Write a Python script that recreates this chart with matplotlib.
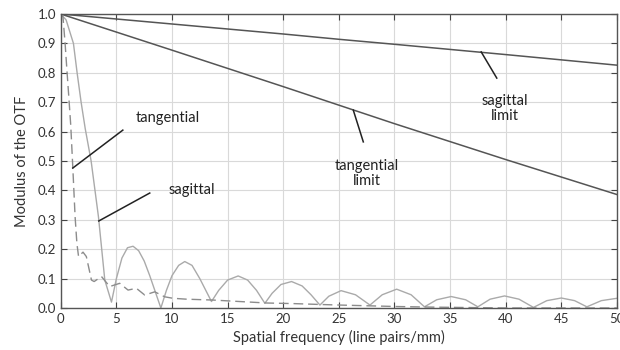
import matplotlib.pyplot as plt
import numpy as np

plt.rcParams['font.family'] = ['Lato', 'DejaVu Sans']

# diffraction limits (nearly straight lines)
lim_x = [0, 10, 20, 25, 30, 40, 50]
sag_limit = [1.0, 0.966, 0.932, 0.914, 0.897, 0.862, 0.826]
tan_limit = [1.0, 0.877, 0.753, 0.69, 0.627, 0.505, 0.386]

# tangential MTF (solid grey)
tan_x = [0, 0.48, 1.14, 1.47, 1.83, 2.2, 2.73, 3.39, 3.96, 4.56, 5.0, 5.5, 6.0, 6.5,
         7.0, 7.5, 8.0, 8.5, 9.0, 9.5, 10.0, 10.6, 11.15, 11.8, 12.5, 13.55,
         14.2, 15.0, 15.95, 16.8, 17.6, 18.35, 19.0, 19.8, 20.75, 21.7, 22.5, 23.3,
         24.1, 25.2, 26.5, 27.8, 28.9, 30.2, 31.5, 32.7, 33.8, 35.1, 36.4, 37.5,
         38.6, 39.9, 41.2, 42.5, 43.7, 45.0, 46.2, 47.3, 48.6, 50.0]
tan_y = [1.0, 0.98, 0.90, 0.80, 0.70, 0.61, 0.50, 0.31, 0.095, 0.02, 0.10, 0.17, 0.205, 0.21,
         0.195, 0.16, 0.11, 0.055, 0.0, 0.06, 0.11, 0.145, 0.158, 0.145, 0.10, 0.022,
         0.06, 0.095, 0.109, 0.095, 0.06, 0.016, 0.05, 0.08, 0.09, 0.075, 0.045, 0.01,
         0.04, 0.059, 0.045, 0.01, 0.045, 0.064, 0.045, 0.004, 0.028, 0.039, 0.028, 0.004,
         0.03, 0.041, 0.03, 0.002, 0.025, 0.034, 0.025, 0.004, 0.025, 0.033]

# sagittal MTF (dashed grey)
sag_x = [0, 0.2, 0.39, 0.57, 0.72, 0.9, 1.08, 1.29, 1.45, 1.6, 2.0, 2.3, 2.76, 3.0, 3.66, 4.4,
         5.3, 6.05, 6.8, 7.55, 8.45, 9.35, 10.1, 11.3, 13.7, 16.1, 18.5, 20.9,
         23.3, 25.1, 30.2, 33.4, 40.0, 50.0]
sag_y = [1.0, 0.99, 0.90, 0.80, 0.72, 0.62, 0.48, 0.31, 0.22, 0.175, 0.19, 0.175, 0.095, 0.09,
         0.107, 0.073, 0.084, 0.061, 0.067, 0.044, 0.055, 0.038, 0.033, 0.03, 0.027, 0.022,
         0.017, 0.015, 0.012, 0.01, 0.005, 0.003, 0.0, 0.0]

fig = plt.figure(figsize=(6.2, 3.5), dpi=100)
ax = fig.add_axes([0.098, 0.12, 0.897, 0.84])

ax.plot(lim_x, sag_limit, color='#555555', lw=1.1)
ax.plot(lim_x, tan_limit, color='#555555', lw=1.1)
ax.plot(tan_x, tan_y, color='#aaaaaa', lw=1.0)
ax.plot(sag_x, sag_y, color='#8c8c8c', lw=1.0, dashes=(7, 3.5))

ax.set_xlim(0, 50)
ax.set_ylim(0, 1.0)
ax.set_xticks(np.arange(0, 51, 5))
ax.set_yticks(np.arange(0, 1.01, 0.1))
ax.set_yticklabels(['%.1f' % v for v in np.arange(0, 1.01, 0.1)])
ax.grid(True, color='#d9d9d9', lw=0.8)
ax.set_axisbelow(True)
ax.tick_params(direction='in', top=True, right=True, length=4, width=0.8,
               colors='#444444', labelcolor='#333333', labelsize=9.5)
for s in ax.spines.values():
    s.set_color('#555555')
    s.set_linewidth(1.0)

ax.set_xlabel('Spatial frequency (line pairs/mm)', fontsize=10.5, color='#333333', labelpad=4)
ax.set_ylabel('Modulus of the OTF', fontsize=10.5, color='#333333', labelpad=6)

# annotations
lc = '#222222'
ax.plot([1.08, 5.58], [0.476, 0.605], color=lc, lw=1.1)
ax.text(9.6, 0.646, 'tangential', fontsize=10.5, ha='center', va='center', color='#222222')
ax.plot([3.42, 8.0], [0.296, 0.391], color=lc, lw=1.1)
ax.text(11.8, 0.40, 'sagittal', fontsize=10.5, ha='center', va='center', color='#222222')
ax.plot([37.8, 39.2], [0.871, 0.782], color=lc, lw=1.1)
ax.text(39.9, 0.68, 'sagittal\nlimit', fontsize=10.5, ha='center', va='center',
        color='#222222', linespacing=1.1)
ax.plot([26.3, 27.2], [0.673, 0.565], color=lc, lw=1.1)
ax.text(27.5, 0.456, 'tangential\nlimit', fontsize=10.5, ha='center', va='center',
        color='#222222', linespacing=1.1)

fig.savefig('out.png', dpi=100)
